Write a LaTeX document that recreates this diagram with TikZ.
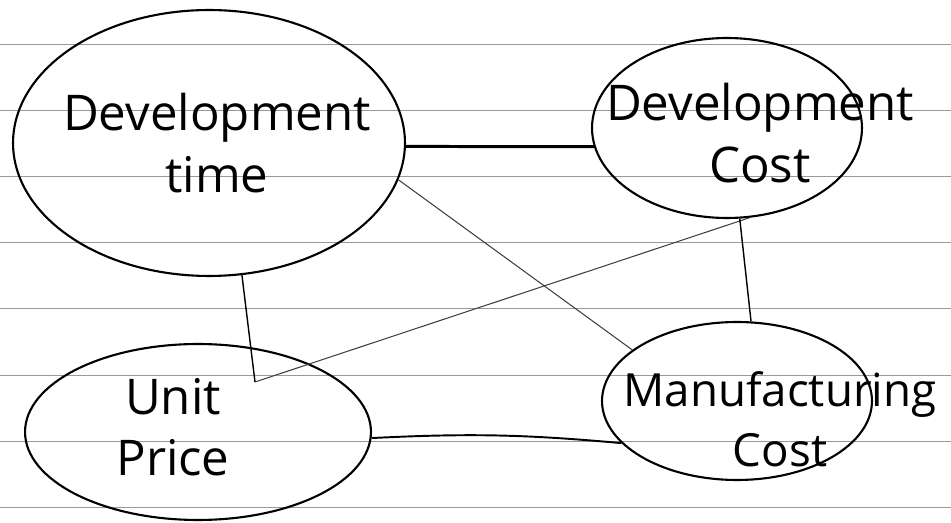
\documentclass[tikz,border=0pt]{standalone}
\usepackage{fontspec}
\setmainfont{Open Sans}
\usetikzlibrary{shapes.geometric}

\begin{document}
\begin{tikzpicture}[x=0.02cm,y=-0.02cm,
    bubble/.style={draw,ellipse,line width=1.2pt,inner sep=0pt},
    word/.style={align=center,font=\fontsize{28}{35}\selectfont},
    link/.style={line width=0.8pt},
    faint/.style={line width=0.6pt,black!75}]
    \useasboundingbox (0,0) rectangle (951,523);

    % Ruled paper
    \foreach \y in {44,110,176,242,308,375,441,507} {
        \draw[black!40,line width=0.5pt] (0,\y) -- (951,\y);
    }

    % Bubbles
    \node[bubble,minimum width=7.84cm,minimum height=5.32cm] (devtime) at (209,143) {};
    \node[bubble,minimum width=5.4cm,minimum height=3.6cm] (devcost) at (727,128) {};
    \node[bubble,minimum width=6.92cm,minimum height=3.52cm] (price) at (198,432) {};
    \node[bubble,minimum width=5.4cm,minimum height=3.16cm] (mfgcost) at (737,401) {};

    % Labels
    \node[word] (devtime-text) at (217,143) {Development\\time};
    \node[word] (devcost-text) at (760,133) {Development\\Cost};
    \node[word] (price-text) at (173,427) {Unit\\Price};
    \node[word,font=\fontsize{26}{34}\selectfont] (mfgcost-text) at (780,419) {Manufacturing\\Cost};

    % Links
    \coordinate (pricejoin) at ([shift={(57,-50)}]price.center);
    \draw[line width=1.7pt] (devtime.-1) -- (devcost.188);
    \draw[faint] (devtime.-11) -- (mfgcost.154);
    \draw[faint] (devcost.-76) -- (pricejoin);
    \draw[link] (devtime.-76) -- (pricejoin);
    \draw[link] (devcost.-82) -- (mfgcost.80);
    \draw[line width=1.1pt] (price.-2) to[bend left=4] (mfgcost.200);
\end{tikzpicture}
\end{document}
